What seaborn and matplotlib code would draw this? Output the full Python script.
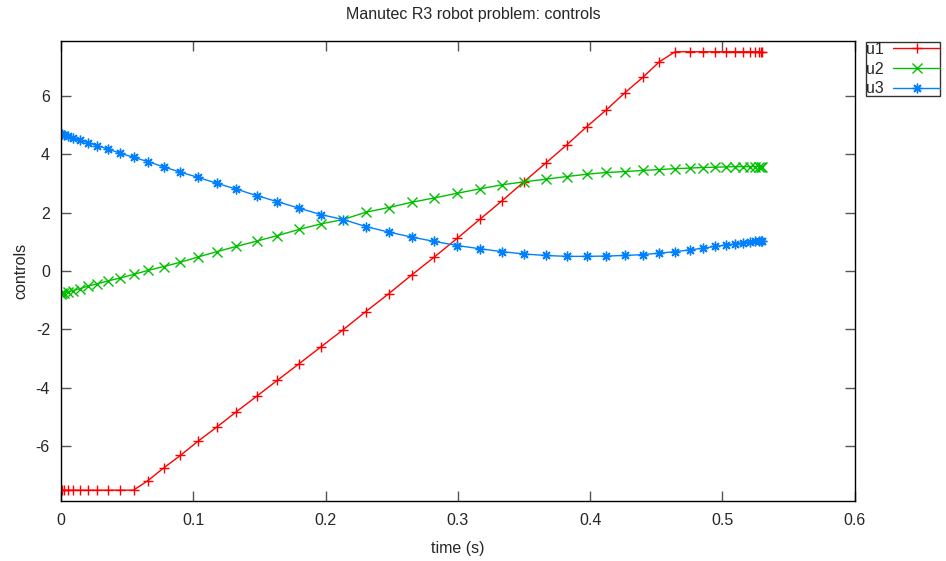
import numpy as np
import pandas as pd
import seaborn as sns
import matplotlib
matplotlib.use("Agg")
import matplotlib.pyplot as plt

# time nodes (s)
t = [0.0, 0.0006, 0.0023, 0.0051, 0.0090, 0.0141, 0.0202, 0.0273, 0.0355, 0.0447,
     0.0548, 0.0658, 0.0776, 0.0903, 0.1037, 0.1178, 0.1325, 0.1478, 0.1636, 0.1798,
     0.1964, 0.2133, 0.2304, 0.2477, 0.2650, 0.2823, 0.2996, 0.3167, 0.3336, 0.3502,
     0.3664, 0.3822, 0.3975, 0.4122, 0.4263, 0.4397, 0.4524, 0.4642, 0.4752, 0.4853,
     0.4945, 0.5027, 0.5098, 0.5159, 0.5210, 0.5249, 0.5277, 0.5294, 0.5300]

u1 = [-7.5, -7.5, -7.5, -7.5, -7.5, -7.5, -7.5, -7.5, -7.5, -7.5,
      -7.5, -7.17, -6.74, -6.31, -5.82, -5.34, -4.82, -4.29, -3.74, -3.18,
      -2.60, -2.01, -1.39, -0.78, -0.14, 0.48, 1.12, 1.77, 2.41, 3.06,
      3.69, 4.31, 4.94, 5.51, 6.10, 6.62, 7.16, 7.5, 7.5, 7.5,
      7.5, 7.5, 7.5, 7.5, 7.5, 7.5, 7.5, 7.5, 7.5]

u2 = [-0.78, -0.77, -0.75, -0.72, -0.67, -0.61, -0.52, -0.44, -0.34, -0.24,
      -0.12, 0.02, 0.15, 0.30, 0.48, 0.66, 0.84, 1.02, 1.21, 1.42,
      1.61, 1.76, 2.01, 2.17, 2.35, 2.50, 2.66, 2.81, 2.95, 3.05,
      3.14, 3.23, 3.31, 3.37, 3.40, 3.44, 3.47, 3.50, 3.52, 3.54,
      3.55, 3.56, 3.57, 3.57, 3.57, 3.57, 3.57, 3.57, 3.57]

u3 = [4.68, 4.67, 4.65, 4.61, 4.55, 4.48, 4.39, 4.29, 4.17, 4.03,
      3.89, 3.74, 3.56, 3.38, 3.20, 3.00, 2.80, 2.58, 2.37, 2.15,
      1.93, 1.76, 1.52, 1.33, 1.16, 1.01, 0.87, 0.76, 0.66, 0.58,
      0.53, 0.50, 0.50, 0.51, 0.53, 0.56, 0.61, 0.66, 0.72, 0.78,
      0.84, 0.89, 0.93, 0.97, 1.00, 1.02, 1.03, 1.04, 1.04]

series = ["u1", "u2", "u3"]
colors = ["#ff0000", "#00c000", "#0080ff"]
markers = ["+", "x", (8, 2, 0)]

df = pd.DataFrame({"time": t, "u1": u1, "u2": u2, "u3": u3})

sns.set_theme()
sns.set_style("ticks")
plt.rcParams['font.family'] = ['Liberation Sans', 'DejaVu Sans']
plt.rcParams['axes.unicode_minus'] = False
plt.rcParams['xtick.direction'] = 'in'
plt.rcParams['ytick.direction'] = 'in'
fs = 11.5

fig = plt.figure(figsize=(9.46, 5.61), dpi=100)
ax = fig.add_axes([0.0645, 0.107, 0.839, 0.82])

for name, c, m in zip(series, colors, markers):
  sns.lineplot(data=df, x="time", y=name, color=c, marker=m, markersize=7,
               markeredgewidth=1.0, markeredgecolor=c, linewidth=1.0,
               label=name, ax=ax)

ax.set_xlim(0, 0.6)
ax.set_ylim(-7.87, 7.87)
ax.set_xticks([0, 0.1, 0.2, 0.3, 0.4, 0.5, 0.6])
ax.set_xticklabels(["0", "0.1", "0.2", "0.3", "0.4", "0.5", "0.6"])
ax.set_yticks([-6, -4, -2, 0, 2, 4, 6])
ax.tick_params(axis='both', which='major', length=7, width=1, labelsize=fs,
               top=True, right=True, color='#555555')
ax.tick_params(axis='x', pad=9)
ax.tick_params(axis='y', pad=8)
for s in ax.spines.values():
  s.set_color('black')
  s.set_linewidth(1.0)

ax.set_xlabel("time (s)", fontsize=fs, labelpad=9)
ax.set_ylabel("controls", fontsize=fs, labelpad=5)
fig.suptitle("Manutec R3 robot problem: controls", fontsize=fs, y=0.987)

leg = ax.legend(loc='upper left', bbox_to_anchor=(0.9155, 0.9255),
                bbox_transform=fig.transFigure, markerfirst=False,
                fancybox=False, frameon=True, fontsize=fs, handlelength=2.9,
                handletextpad=0.6, borderpad=0.0, labelspacing=0.3,
                borderaxespad=0, numpoints=1)
leg.get_frame().set_edgecolor('black')
leg.get_frame().set_linewidth(1.0)

fig.savefig("out.png", dpi=100)
